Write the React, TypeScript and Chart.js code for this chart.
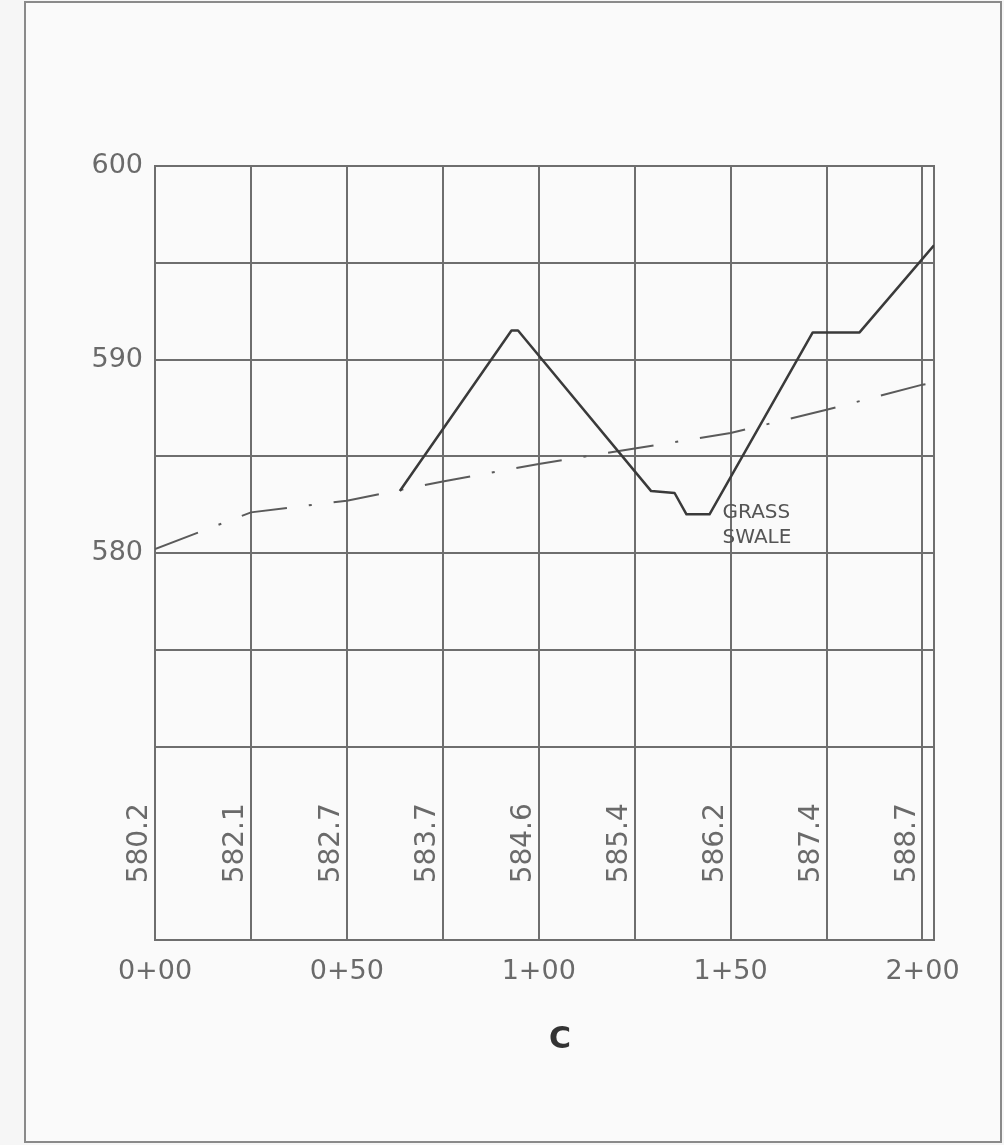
import React, { useEffect, useRef } from 'react';
import { Chart, registerables } from 'chart.js';

Chart.register(...registerables);

// Stations (ft) for the grid / table columns
const stations = [0, 25, 50, 75, 100, 125, 150, 175, 200];
// Proposed grade elevations printed in the table
const tableValues = [580.2, 582.1, 582.7, 583.7, 584.6, 585.4, 586.2, 587.4, 588.7];
// Proposed grade line (dash-dot)
const gradeStations = [0, 25, 50, 75, 100, 125, 150, 175, 200, 203];
const gradeElev = [580.2, 582.1, 582.7, 583.7, 584.6, 585.4, 586.2, 587.4, 588.7, 588.8];
// Existing ground line (solid)
const groundStations = [63.8, 92.9, 94.6, 129.3, 135.4, 138.5, 144.5, 171.4, 183.6, 203];
const groundElev = [583.2, 591.5, 591.5, 583.2, 583.1, 582.0, 582.0, 591.4, 591.4, 595.9];
// Axis tick labels
const yTickValues = [580, 590, 600];
const xTickValues = [0, 50, 100, 150, 200];
const xTickLabels = ['0+00', '0+50', '1+00', '1+50', '2+00'];
const yGridValues = [560, 570, 575, 580, 585, 590, 595, 600];
const noteLines = ['GRASS', 'SWALE'];
const noteAnchor = { x: 147.9, y: 582.1 };
const caption = 'C';

const FONT = '"DejaVu Sans", sans-serif';

const drawingPlugin = {
  id: 'drawing',
  beforeDraw(chart: any) {
    const { ctx, width, height } = chart;
    ctx.save();
    ctx.fillStyle = '#f6f6f6';
    ctx.fillRect(0, 0, width, height);
    ctx.fillStyle = '#fafafa';
    ctx.fillRect(26, 3, 974, 1138);
    ctx.strokeStyle = '#8a8a8a';
    ctx.lineWidth = 2;
    ctx.strokeRect(25, 2, 976, 1140);
    ctx.restore();
  },
  beforeDatasetsDraw(chart: any) {
    const { ctx, chartArea } = chart;
    ctx.save();
    ctx.strokeStyle = '#6e6e6e';
    ctx.lineWidth = 2;
    ctx.strokeRect(chartArea.left, chartArea.top, chartArea.right - chartArea.left, chartArea.bottom - chartArea.top);
    ctx.restore();
  },
  afterDatasetsDraw(chart: any) {
    const { ctx, scales } = chart;
    const xs = scales.x;
    const ys = scales.y;
    ctx.save();
    // table labels (rotated)
    ctx.fillStyle = '#6a6a6a';
    ctx.font = `28px ${FONT}`;
    ctx.textAlign = 'center';
    ctx.textBaseline = 'middle';
    const yMid = ys.getPixelForValue(565);
    stations.forEach((s, i) => {
      const px = xs.getPixelForValue(s) - 15;
      ctx.save();
      ctx.translate(px, yMid);
      ctx.rotate(-Math.PI / 2);
      ctx.fillText(tableValues[i].toFixed(1), 0, 0);
      ctx.restore();
    });
    // note
    ctx.fillStyle = '#555';
    ctx.font = `20px ${FONT}`;
    ctx.textAlign = 'left';
    const nx = xs.getPixelForValue(noteAnchor.x);
    const ny = ys.getPixelForValue(noteAnchor.y);
    noteLines.forEach((t, i) => ctx.fillText(t, nx, ny + i * 25));
    // caption
    ctx.fillStyle = '#333';
    ctx.font = `bold 30px ${FONT}`;
    ctx.textAlign = 'center';
    ctx.fillText(caption, 560, 1040);
    ctx.restore();
  },
};

export default function App() {
  const ref = useRef<HTMLCanvasElement>(null);
  useEffect(() => {
    if (!ref.current) return;
    const chart = new Chart(ref.current, {
      type: 'line',
      data: {
        datasets: [
          {
            data: groundStations.map((x, i) => ({ x, y: groundElev[i] })),
            borderColor: '#3a3a3a',
            borderWidth: 2.5,
            borderJoinStyle: 'round',
            pointRadius: 0,
            tension: 0,
          },
          {
            data: gradeStations.map((x, i) => ({ x, y: gradeElev[i] })),
            borderColor: '#5a5a5a',
            borderWidth: 2,
            borderDash: [46, 22, 3, 22],
            pointRadius: 0,
            tension: 0,
          },
        ],
      },
      options: {
        responsive: false,
        animation: false,
        events: [],
        layout: { padding: { left: 0, right: 70, top: 166, bottom: 0 } },
        plugins: { legend: { display: false }, tooltip: { enabled: false } },
        scales: {
          x: {
            type: 'linear',
            min: 0,
            max: 203,
            afterBuildTicks: (s: any) => {
              s.ticks = stations.map((v) => ({ value: v }));
            },
            afterFit: (s: any) => {
              s.height = 205;
            },
            grid: { color: '#6e6e6e', lineWidth: 2, drawTicks: false },
            border: { display: false },
            ticks: {
              padding: 16,
              color: '#6a6a6a',
              font: { family: FONT, size: 27 },
              maxRotation: 0,
              autoSkip: false,
              callback: (v: any) => {
                const i = xTickValues.indexOf(Number(v));
                return i >= 0 ? xTickLabels[i] : '';
              },
            },
          },
          y: {
            type: 'linear',
            min: 560,
            max: 600,
            afterBuildTicks: (s: any) => {
              s.ticks = yGridValues.map((v) => ({ value: v }));
            },
            afterFit: (s: any) => {
              s.width = 155;
            },
            grid: { color: '#6e6e6e', lineWidth: 2, drawTicks: false },
            border: { display: false },
            ticks: {
              padding: 12,
              color: '#6a6a6a',
              font: { family: FONT, size: 27 },
              autoSkip: false,
              callback: (v: any) => (yTickValues.includes(Number(v)) ? String(v) : ''),
            },
          },
        },
      },
      plugins: [drawingPlugin],
    } as any);
    return () => chart.destroy();
  }, []);
  return (
    <canvas
      ref={ref}
      width={1004}
      height={1145}
      style={{ position: 'absolute', left: 0, top: 0, width: 1004, height: 1145 }}
    />
  );
}
